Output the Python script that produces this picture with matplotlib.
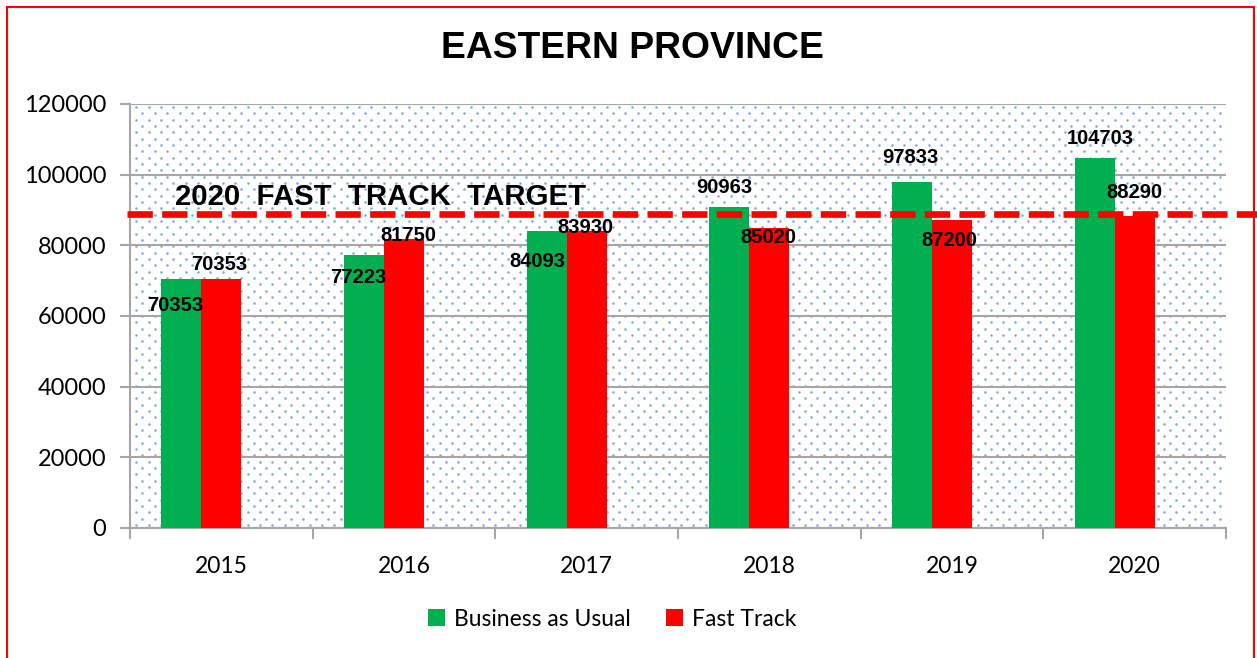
import numpy as np
import matplotlib
matplotlib.use("Agg")
import matplotlib.pyplot as plt
import matplotlib.patches as patches
import matplotlib.transforms as mtransforms

# data
years = ['2015', '2016', '2017', '2018', '2019', '2020']
business_as_usual = [70353, 77223, 84093, 90963, 97833, 104703]
fast_track = [70353, 81750, 83930, 85020, 87200, 88290]
target = 89000

# label offsets in pixels (dx, dy from bar top), as in the original
bau_offsets = [(-6, -26), (-6, -22), (-9, -31), (-5, 19), (-2, 25), (6, 20)]
ft_offsets = [(-2, 15), (4, 4), (-1, 4), (-1, -10), (-3, -21), (0, 24)]

green = '#00b050'
red = '#ff0000'
grid_col = '#a6a6a6'
dot_col = '#86aadb'

fig = plt.figure(figsize=(12.57, 6.58), dpi=100)
ax = fig.add_axes([130/1257, 1-528/658, 1096/1257, 424/658])

x = np.arange(len(years))
w = 40/182.7

# dotted background texture (staggered rows)
nc, nr = 88, 67
gx, gy = np.meshgrid(np.arange(nc) + 0.5, np.arange(nr) + 0.5)
gx = gx + 0.5 * (np.arange(nr)[:, None] % 2)
ax.scatter((gx / (nc + 0.5)).ravel(), (gy / nr).ravel(), s=3.5, color=dot_col,
           lw=0, transform=ax.transAxes, zorder=0.5, clip_on=True)

ax.bar(x - w, business_as_usual, w, color=green, label='Business as Usual', zorder=3)
ax.bar(x, fast_track, w, color=red, label='Fast Track', zorder=3)

for xi, v, (dx, dy) in zip(x - w, business_as_usual, bau_offsets):
    ax.annotate(str(v), (xi, v), xytext=(dx, dy), textcoords='offset pixels',
                ha='center', va='center', fontsize=14.5, fontweight='bold',
                family='Liberation Sans', zorder=6)
for xi, v, (dx, dy) in zip(x, fast_track, ft_offsets):
    ax.annotate(str(v), (xi, v), xytext=(dx, dy), textcoords='offset pixels',
                ha='center', va='center', fontsize=14.5, fontweight='bold',
                family='Liberation Sans', zorder=6)

# target line, running past the plot area
trans = mtransforms.blended_transform_factory(ax.transAxes, ax.transData)
ax.plot([-0.003, 1.04], [target, target], transform=trans, color=red, lw=4.8,
        dashes=(3.8, 1.4), clip_on=False, zorder=5)
ax.text(0.041, target + 4800, '2020  FAST  TRACK  TARGET', transform=trans,
        fontsize=21.2, fontweight='bold', family='Liberation Sans', va='center',
        zorder=6)

ax.set_xlim(-0.5, 5.5)
ax.set_ylim(0, 120000)
ax.set_yticks(np.arange(0, 120001, 20000))
ax.yaxis.grid(True, color=grid_col, lw=1.5, zorder=1)
ax.set_axisbelow(True)
ax.set_xticks(x)
ax.set_xticklabels(years)
ax.set_xticks(np.arange(-0.5, 6, 1), minor=True)
ax.tick_params(axis='x', which='major', length=0, pad=20, labelsize=16.5)
ax.tick_params(axis='x', which='minor', length=8, width=1.5, color=grid_col, direction='out')
ax.tick_params(axis='y', length=7, width=1.5, color=grid_col, labelsize=17, pad=10)
for lab in ax.get_xticklabels() + ax.get_yticklabels():
    lab.set_family('Lato')

for s in ['top', 'right']:
    ax.spines[s].set_visible(False)
for s in ['left', 'bottom']:
    ax.spines[s].set_color(grid_col)
    ax.spines[s].set_linewidth(1.5)

fig.text(0.503, 1-49/658, 'EASTERN PROVINCE', ha='center', va='center',
         fontsize=26.8, fontweight='bold', family='Liberation Sans')

leg = fig.legend(loc='center', bbox_to_anchor=(0.487, 1-619/658), ncol=2,
                 frameon=False, prop={'family': 'Lato', 'size': 16.5},
                 handlelength=0.75, handleheight=0.75, columnspacing=1.5,
                 handletextpad=0.4)

# red frame around the chart
fig.add_artist(patches.Rectangle((7/1257, -0.01), 1247/1257, 1-7/658 + 0.01,
                                 transform=fig.transFigure, fill=False,
                                 edgecolor=red, lw=1.5))

fig.savefig('out.png', dpi=100)
